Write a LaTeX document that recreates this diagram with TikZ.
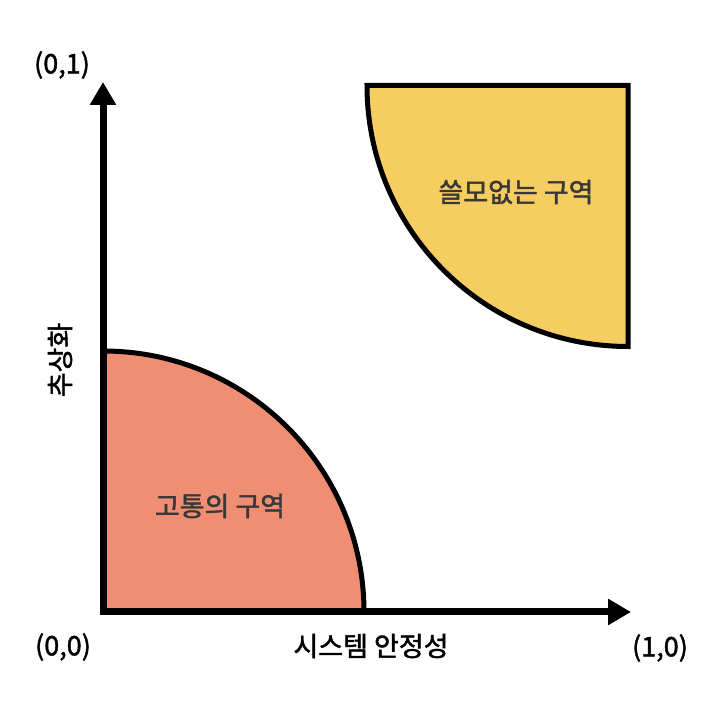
\documentclass[tikz,border=0pt]{standalone}
\usepackage{fontspec}
\newfontfamily\labelfont{Noto Sans CJK KR}[FakeBold=1.6]
\usetikzlibrary{arrows.meta}
\definecolor{painred}{HTML}{EF8E72}
\definecolor{uselessyellow}{HTML}{F5CD60}
\definecolor{zonetext}{HTML}{383838}
\tikzset{
  zone/.style={
    draw=black,
    line width=2.5pt,
    fill=#1,
  },
  axis/.style={
    line width=3.5pt,
    {Triangle[length=11.5pt,width=12.5pt]}-{Triangle[length=11.5pt,width=12.5pt]},
  },
  axis label/.style={
    font=\labelfont\fontsize{13.5}{16}\selectfont,
    text=black,
  },
  zone label/.style={
    font=\labelfont\fontsize{13.5}{16}\selectfont,
    text=zonetext,
  }
}

\begin{document}
\begin{tikzpicture}[x=0.5pt, y=0.5pt]
        \useasboundingbox (0,0) rectangle (710,710);
        \coordinate (origin) at (103,98);
        \coordinate (xtip) at (631,98);
        \coordinate (ytip) at (103,628);
        \coordinate (corner) at (628,624.5);

        \draw [zone=painred] (origin) -- ++(261,0)
            arc [start angle=0, end angle=90, radius=261] -- cycle;
        \draw [zone=uselessyellow] (corner) ++(-261,0) -- (corner) -- ++(0,-261)
            arc [start angle=270, end angle=180, radius=261] -- cycle;
        \draw [axis] (ytip) -- (origin) -- (xtip);

        \node [zone label] (pain) at (220,204) {고통의 구역};
        \node [zone label] (useless) at (516,518) {쓸모없는 구역};
        \node [axis label] (xname) at (371,64) {시스템 안정성};
        \node [axis label, rotate=90] (yname) at (60,350) {추상화};
        \node [axis label] (p00) at (63,63) {(0,0)};
        \node [axis label] (p10) at (660,62) {(1,0)};
        \node [axis label] (p01) at (62,645) {(0,1)};
    \end{tikzpicture}
\end{document}
